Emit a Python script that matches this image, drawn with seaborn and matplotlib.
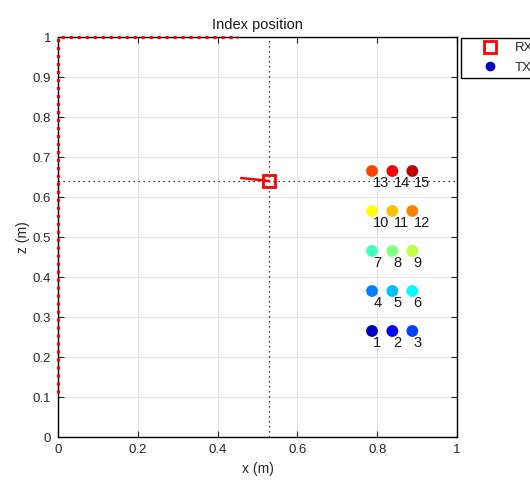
import numpy as np
import pandas as pd
import matplotlib
matplotlib.use("Agg")
import matplotlib.pyplot as plt
from matplotlib.lines import Line2D
import seaborn as sns

# Transmitter grid (x, z) in metres, numbered 1..15
tx_x = [0.787, 0.838, 0.888] * 5
tx_z = [0.265] * 3 + [0.365] * 3 + [0.465] * 3 + [0.565] * 3 + [0.665] * 3
tx_id = list(range(1, 16))

# Receiver position and heading segment
rx_x, rx_z = 0.529, 0.640
heading_x = [0.459, 0.529]
heading_z = [0.6475, 0.640]

# Receiver path travelled
path_x = [0.0, 0.0, 0.45]
path_z = [0.11, 1.0, 1.0]

x_ticks = [0, 0.2, 0.4, 0.6, 0.8, 1]
z_ticks = [0, 0.1, 0.2, 0.3, 0.4, 0.5, 0.6, 0.7, 0.8, 0.9, 1]

# Jet-style colour per transmitter
tx_colors = [
    (0, 0, 0.75), (0, 0, 1), (0, 0.25, 1), (0, 0.5, 1), (0, 0.75, 1),
    (0, 1, 1), (0.25, 1, 0.75), (0.5, 1, 0.5), (0.75, 1, 0.25), (1, 1, 0),
    (1, 0.75, 0), (1, 0.5, 0), (1, 0.25, 0), (1, 0, 0), (0.75, 0, 0),
]

sns.set_theme(style="whitegrid")
plt.rcParams["font.family"] = ["Liberation Sans", "DejaVu Sans"]

fig = plt.figure(figsize=(5.3, 4.8), dpi=100)
ax = fig.add_axes([58 / 530, 43 / 480, 399 / 530, 400 / 480])
ax.set_facecolor("white")

df = pd.DataFrame({"x": tx_x, "z": tx_z, "id": [str(i) for i in tx_id]})

# Crosshair through the receiver
ax.axvline(rx_x, color="black", lw=0.9, ls=(0, (1, 3)), zorder=2)
ax.axhline(rx_z, color="black", lw=0.9, ls=(0, (1, 3)), zorder=2)

sns.scatterplot(data=df, x="x", y="z", hue="id", palette=tx_colors, s=72,
                edgecolor="none", legend=False, ax=ax, zorder=4)
for xi, zi, n in zip(tx_x, tx_z, tx_id):
    ax.text(xi + 0.003, zi - 0.031, str(n), ha="left", va="center",
            fontsize=10.5, color="#1a1a1a", zorder=5)

ax.plot(heading_x, heading_z, color="red", lw=1.8, zorder=5)
ax.plot([rx_x], [rx_z], marker="s", ms=8, mfc="none", mec="red", mew=2,
        ls="none", zorder=6)

ax.plot(path_x, path_z, color="red", lw=2.3, ls=(0, (0.95, 1.55)),
        dash_capstyle="butt", clip_on=False, zorder=7)

ax.set_xlim(0, 1)
ax.set_ylim(0, 1)
ax.set_xticks(x_ticks)
ax.set_xticklabels(["0", "0.2", "0.4", "0.6", "0.8", "1"])
ax.set_yticks(z_ticks)
ax.set_yticklabels(["0", "0.1", "0.2", "0.3", "0.4", "0.5", "0.6", "0.7",
                    "0.8", "0.9", "1"])
ax.grid(True, color="#e3e3e3", lw=0.9)
for s in ax.spines.values():
    s.set_visible(True)
    s.set_color("black")
    s.set_linewidth(1.0)
ax.tick_params(direction="in", length=4, width=0.8, color="#262626",
               top=True, right=True, bottom=True, left=True,
               labelsize=9.5, labelcolor="#262626", pad=5)

ax.set_title("Index position", fontsize=10.5, color="#1a1a1a", pad=6)
ax.set_xlabel("x (m)", fontsize=10, color="#262626", labelpad=4)
ax.set_ylabel("z (m)", fontsize=10, color="#262626", labelpad=2)

handles = [
    Line2D([], [], marker="s", ms=8, mfc="none", mec="red", mew=2, ls="none"),
    Line2D([], [], marker="o", ms=7, mfc=tx_colors[0], mec="none", ls="none"),
]
fig.legend(handles, ["RX", "TX"], loc="upper left",
           bbox_to_anchor=(461 / 530, 1 - 38 / 480), borderaxespad=0,
           fontsize=9.5, frameon=True, fancybox=False, edgecolor="black",
           framealpha=1, borderpad=0.3, handletextpad=0.0,
           labelspacing=0.55, handlelength=3.8)

fig.savefig("out.png", dpi=100)
